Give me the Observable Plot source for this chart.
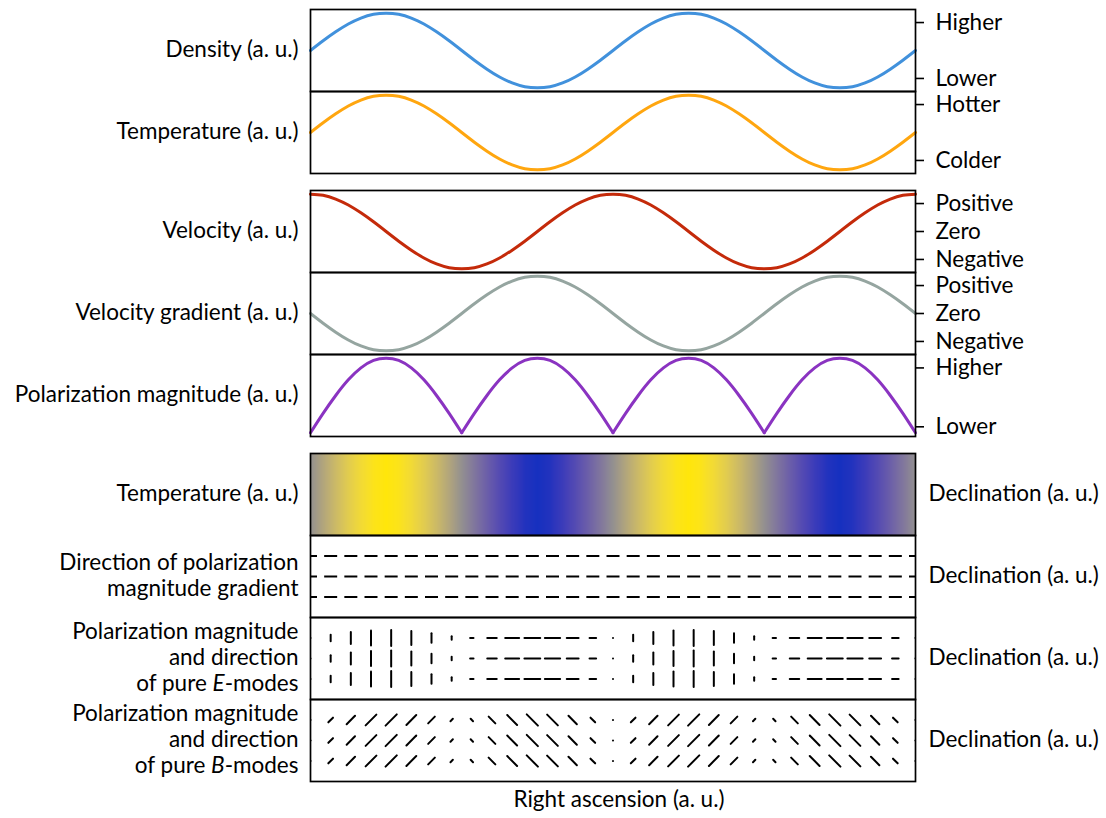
<!DOCTYPE html>
<html>
<head>
<meta charset="utf-8">
<script src="https://cdn.jsdelivr.net/npm/d3@7"></script>
<script src="https://cdn.jsdelivr.net/npm/@observablehq/plot@0.6"></script>
<style>
  body { margin: 0; background: #fff; }
  #chart { position: relative; width: 1106px; height: 818px; font-family: Lato, sans-serif; }
</style>
</head>
<body>
<div id="chart"></div>
<script>
// ---------------- data ----------------
// sample index along right ascension (0 = left edge, 48 = right edge)
const samplePos = [0,1,2,3,4,5,6,7,8,9,10,11,12,13,14,15,16,17,18,19,20,21,22,23,24,25,26,27,28,29,30,31,32,33,34,35,36,37,38,39,40,41,42,43,44,45,46,47,48];
const density = [0,.26,.5,.71,.87,.97,1,.97,.87,.71,.5,.26,0,-.26,-.5,-.71,-.87,-.97,-1,-.97,-.87,-.71,-.5,-.26,0,.26,.5,.71,.87,.97,1,.97,.87,.71,.5,.26,0,-.26,-.5,-.71,-.87,-.97,-1,-.97,-.87,-.71,-.5,-.26,0];
const temperature = [0,.26,.5,.71,.87,.97,1,.97,.87,.71,.5,.26,0,-.26,-.5,-.71,-.87,-.97,-1,-.97,-.87,-.71,-.5,-.26,0,.26,.5,.71,.87,.97,1,.97,.87,.71,.5,.26,0,-.26,-.5,-.71,-.87,-.97,-1,-.97,-.87,-.71,-.5,-.26,0];
const velocity = [1,.97,.87,.71,.5,.26,0,-.26,-.5,-.71,-.87,-.97,-1,-.97,-.87,-.71,-.5,-.26,0,.26,.5,.71,.87,.97,1,.97,.87,.71,.5,.26,0,-.26,-.5,-.71,-.87,-.97,-1,-.97,-.87,-.71,-.5,-.26,0,.26,.5,.71,.87,.97,1];
const velocityGradient = [0,-.26,-.5,-.71,-.87,-.97,-1,-.97,-.87,-.71,-.5,-.26,0,.26,.5,.71,.87,.97,1,.97,.87,.71,.5,.26,0,-.26,-.5,-.71,-.87,-.97,-1,-.97,-.87,-.71,-.5,-.26,0,.26,.5,.71,.87,.97,1,.97,.87,.71,.5,.26,0];
const polarization = [0,.26,.5,.71,.87,.97,1,.97,.87,.71,.5,.26,0,.26,.5,.71,.87,.97,1,.97,.87,.71,.5,.26,0,.26,.5,.71,.87,.97,1,.97,.87,.71,.5,.26,0,.26,.5,.71,.87,.97,1,.97,.87,.71,.5,.26,0];

// tick labels
const densityTicks = [-0.75, 0.75], densityLabels = ["Lower", "Higher"];
const tempTicks = [-0.75, 0.75], tempLabels = ["Colder", "Hotter"];
const signTicks = [-0.75, 0, 0.75], signLabels = ["Negative", "Zero", "Positive"];
const polTicks = [0.08, 0.87], polLabels = ["Lower", "Higher"];

// quiver grids (column index 0..30, rows)
const quiverCols = [0,1,2,3,4,5,6,7,8,9,10,11,12,13,14,15,16,17,18,19,20,21,22,23,24,25,26,27,28,29,30];
const quiverRows = [-1, 0, 1];
const gradMag   = [1,1,1,1,1,1,1,1,1,1,1,1,1,1,1,1,1,1,1,1,1,1,1,1,1,1,1,1,1,1,1];
const gradAngle = [90,90,90,90,90,90,90,90,90,90,90,90,90,90,90,90,90,90,90,90,90,90,90,90,90,90,90,90,90,90,90];
const eMag   = [0,.41,.74,.95,.99,.87,.59,.21,.21,.59,.87,.99,.95,.74,.41,0,.41,.74,.95,.99,.87,.59,.21,.21,.59,.87,.99,.95,.74,.41,0];
const eAngle = [0,0,0,0,0,0,0,0,90,90,90,90,90,90,90,0,0,0,0,0,0,0,0,90,90,90,90,90,90,90,90];
const bMag   = [0,.41,.74,.95,.99,.87,.59,.21,.21,.59,.87,.99,.95,.74,.41,0,.41,.74,.95,.99,.87,.59,.21,.21,.59,.87,.99,.95,.74,.41,0];
const bAngle = [45,45,45,45,45,45,45,45,-45,-45,-45,-45,-45,-45,-45,45,45,45,45,45,45,45,45,-45,-45,-45,-45,-45,-45,-45,-45];

const colors = {density: "#4191dc", temperature: "#ffa60f", velocity: "#c42a0a", gradient: "#95a5a0", polarization: "#8a33c1"};
const tempMap = {domain: [-1, 0, 1], range: ["#1630bf", "#939090", "#ffe60a"]};

// ---------------- layout ----------------
const chart = document.getElementById("chart");
const W = 1106, ML = 310, MR = 191, PH = 82, M = 10;
const FS = 22.5;
const FONT = "Lato, sans-serif";
const AU = "(a.\u2005u.)";

function place(svg, top, mt) {
  svg.style.position = "absolute";
  svg.style.left = "0px";
  svg.style.top = (top - mt) + "px";
  chart.appendChild(svg);
}
const baseStyle = {background: "transparent", overflow: "visible", fontFamily: FONT, fontSize: FS + "px", color: "black"};

function leftLabel(text) {
  return Plot.text([text], {frameAnchor: "left", dx: -12, dy: -2, textAnchor: "end", fontSize: FS, lineHeight: 1.16, fill: "black"});
}

function curvePanel(top, values, color, label, ticks, labels, yDomain, humps) {
  let data;
  if (humps) {
    data = [];
    for (let h = 0; h < 4; ++h)
      for (let i = h * 12; i <= h * 12 + 12; ++i) data.push({s: samplePos[i], v: values[i], z: h});
  } else {
    data = samplePos.map((s, i) => ({s, v: values[i], z: 0}));
  }
  const fmt = new Map(ticks.map((t, i) => [t, labels[i]]));
  const svg = Plot.plot({
    width: W, height: PH + 2 * M, marginLeft: ML, marginRight: MR, marginTop: M, marginBottom: M,
    style: baseStyle,
    x: {domain: [0, 48], axis: null},
    y: {domain: yDomain},
    marks: [
      Plot.line(data, {x: "s", y: "v", z: "z", stroke: color, strokeWidth: 3, curve: "natural"}),
      Plot.frame({stroke: "black", strokeWidth: 1.7}),
      Plot.axisY(ticks, {anchor: "right", tickFormat: d => fmt.get(d), tickSize: 8, tickPadding: 12, strokeWidth: 1.6, fontSize: FS, label: null}),
      leftLabel(label)
    ]
  });
  place(svg, top, M);
}

const lineShape = {draw(context, l) { context.moveTo(0, 0); context.lineTo(0, -l); }};

function quiverPanel(top, mags, angles, maxLen, label, cap, extra) {
  const data = [];
  for (const r of quiverRows)
    quiverCols.forEach((c, i) => data.push({c, r, m: mags[i], a: angles[i]}));
  const mb = extra ? 40 : M;
  const marks = [
    Plot.vector(data, {x: "c", y: "r", length: "m", rotate: "a", anchor: "middle", shape: lineShape,
      stroke: "black", strokeWidth: 2, strokeLinecap: cap, clip: "frame"}),
    Plot.frame({stroke: "black", strokeWidth: 1.7}),
    leftLabel(label),
    Plot.text(["Declination " + AU], {frameAnchor: "right", dx: 13, dy: -1, textAnchor: "start", fontSize: FS, fill: "black"})
  ];
  if (extra) marks.push(Plot.text([extra], {frameAnchor: "bottom", dx: 6, dy: 25, fontSize: FS, fill: "black"}));
  const svg = Plot.plot({
    width: W, height: PH + M + mb, marginLeft: ML, marginRight: MR, marginTop: M, marginBottom: mb,
    style: baseStyle,
    x: {domain: [0, 30], axis: null},
    y: {domain: [-2, 2], axis: null},
    length: {domain: [0, 1], range: [0, maxLen]},
    marks
  });
  place(svg, top, M);
}

function colormapPanel(top, values, label) {
  const data = [];
  for (const yy of [-2, 2]) samplePos.forEach((s, i) => data.push({s, yy, v: values[i]}));
  const svg = Plot.plot({
    width: W, height: PH + 2 * M, marginLeft: ML, marginRight: MR, marginTop: M, marginBottom: M,
    style: baseStyle,
    x: {domain: [0, 48], axis: null},
    y: {domain: [-2, 2], axis: null},
    color: {type: "linear", domain: tempMap.domain, range: tempMap.range, interpolate: "lab"},
    marks: [
      Plot.raster(data, {x: "s", y: "yy", fill: "v", interpolate: "barycentric", x1: 0, x2: 48, y1: -2, y2: 2}),
      Plot.frame({stroke: "black", strokeWidth: 1.7}),
      leftLabel(label),
      Plot.text(["Declination " + AU], {frameAnchor: "right", dx: 13, dy: -1, textAnchor: "start", fontSize: FS, fill: "black"})
    ]
  });
  place(svg, top, M);
}

curvePanel(9, density, colors.density, "Density " + AU, densityTicks, densityLabels, [-1.1, 1.1]);
curvePanel(91, temperature, colors.temperature, "Temperature " + AU, tempTicks, tempLabels, [-1.1, 1.1]);
curvePanel(190, velocity, colors.velocity, "Velocity " + AU, signTicks, signLabels, [-1.1, 1.1]);
curvePanel(272, velocityGradient, colors.gradient, "Velocity gradient " + AU, signTicks, signLabels, [-1.1, 1.1]);
curvePanel(354, polarization, colors.polarization, "Polarization magnitude " + AU, polTicks, polLabels, [-0.05, 1.05], true);
colormapPanel(453, temperature, "Temperature " + AU);
quiverPanel(535, gradMag, gradAngle, 13, "Direction of polarization\nmagnitude gradient", "butt");
quiverPanel(617, eMag, eAngle, 16, "Polarization magnitude\nand direction\nof pure E-modes", "round");
quiverPanel(699, bMag, bAngle, 16, "Polarization magnitude\nand direction\nof pure B-modes", "round", "Right ascension " + AU);

// italicise the mode letters
const svgNS = "http://www.w3.org/2000/svg";
chart.querySelectorAll("tspan").forEach(t => {
  const m = t.textContent.match(/^(of pure )([EB])(-modes)$/);
  if (m) {
    t.textContent = m[1];
    const it = document.createElementNS(svgNS, "tspan");
    it.setAttribute("font-style", "italic");
    it.textContent = m[2];
    t.appendChild(it);
    t.appendChild(document.createTextNode(m[3]));
  }
});
</script>
</body>
</html>
